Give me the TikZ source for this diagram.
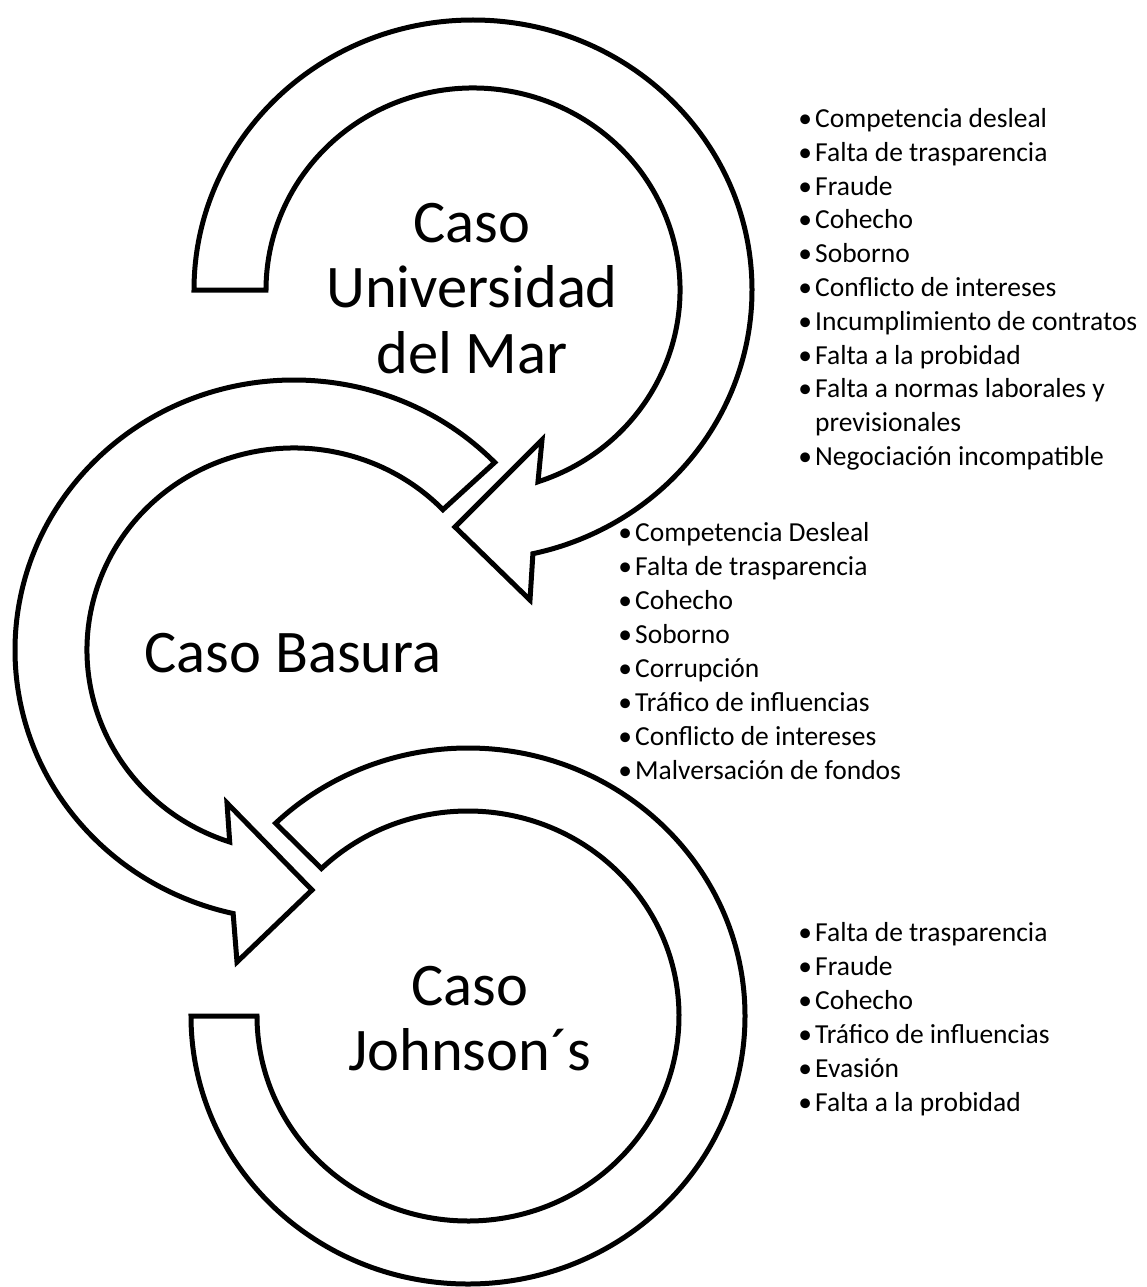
\documentclass[tikz,border=0pt]{standalone}
\usepackage{fontspec}
\setmainfont{Carlito}
\usetikzlibrary{calc}
\newcommand{\bul}{\makebox[20pt][c]{\textbullet}}
\newcommand{\nobul}{\hspace*{20pt}}
\begin{document}
\begin{tikzpicture}[x=1pt,y=1pt,yscale=-1,
  band/.style={draw=black, fill=white, line width=5pt, line join=miter},
  big/.style={font=\fontsize{60.5}{65.5}\selectfont, align=center, inner sep=0pt, anchor=base},
  lstA/.style={font=\fontsize{27.5}{33.8}\selectfont, align=left, inner sep=0pt, anchor=base west},
  lstB/.style={font=\fontsize{27.5}{34.1}\selectfont, align=left, inner sep=0pt, anchor=base west}]
\useasboundingbox (0,0) rectangle (1146,1287);

% centres of the three circular arrows
\coordinate (c1) at (473,290);
\coordinate (c2) at (294,650);
\coordinate (c3) at (468,1016);

% shape 1: Caso Universidad del Mar (clockwise arrow)
\draw[band] ($(c1)+(180:279 and 270)$)
  arc[start angle=180, end angle=437.6, x radius=279, y radius=270]
  -- (530,600) -- (455,527) -- (542,440)
  -- ($(c1)+(431.7:207 and 202)$)
  arc[start angle=431.7, end angle=180, x radius=207, y radius=202]
  -- cycle;

% shape 2: Caso Basura (counter-clockwise arrow)
\draw[band] ($(c2)+(-44:279 and 270)$)
  arc[start angle=-44, end angle=-257.4, x radius=279, y radius=270]
  -- (237,962) -- (312,890) -- (227,803)
  -- ($(c2)+(-251.9:207 and 202)$)
  arc[start angle=-251.9, end angle=-44, x radius=207, y radius=202]
  -- cycle;

% shape 3: Caso Johnson's (block arc)
\draw[band] ($(c3)+(180:277 and 268)$)
  arc[start angle=180, end angle=-134, x radius=277, y radius=268]
  -- ($(c3)+(-134:211 and 205)$)
  arc[start angle=-134, end angle=180, x radius=211, y radius=205]
  -- cycle;

% titles (anchor = baseline of the last line)
\node[big] (t1) at (472,373) {Caso\\Universidad\\del Mar};
\node[big] (t2) at (293,672) {Caso Basura};
\node[big] (t3) at (470,1070.5) {Caso\\Johnson´s};

% lists (anchor = baseline of the last line)
\node[lstA] (l1) at (795,465.5) {\bul Competencia desleal\\
\bul Falta de trasparencia\\
\bul Fraude\\
\bul Cohecho\\
\bul Soborno\\
\bul Conflicto de intereses\\
\bul Incumplimiento de contratos\\
\bul Falta a la probidad\\
\bul Falta a normas laborales y\\
\nobul previsionales\\
\bul Negociación incompatible};

\node[lstB] (l2) at (615,779.7) {\bul Competencia Desleal\\
\bul Falta de trasparencia\\
\bul Cohecho\\
\bul Soborno\\
\bul Corrupción\\
\bul Tráfico de influencias\\
\bul Conflicto de intereses\\
\bul Malversación de fondos};

\node[lstB] (l3) at (795,1111.5) {\bul Falta de trasparencia\\
\bul Fraude\\
\bul Cohecho\\
\bul Tráfico de influencias\\
\bul Evasión\\
\bul Falta a la probidad};
\end{tikzpicture}
\end{document}
